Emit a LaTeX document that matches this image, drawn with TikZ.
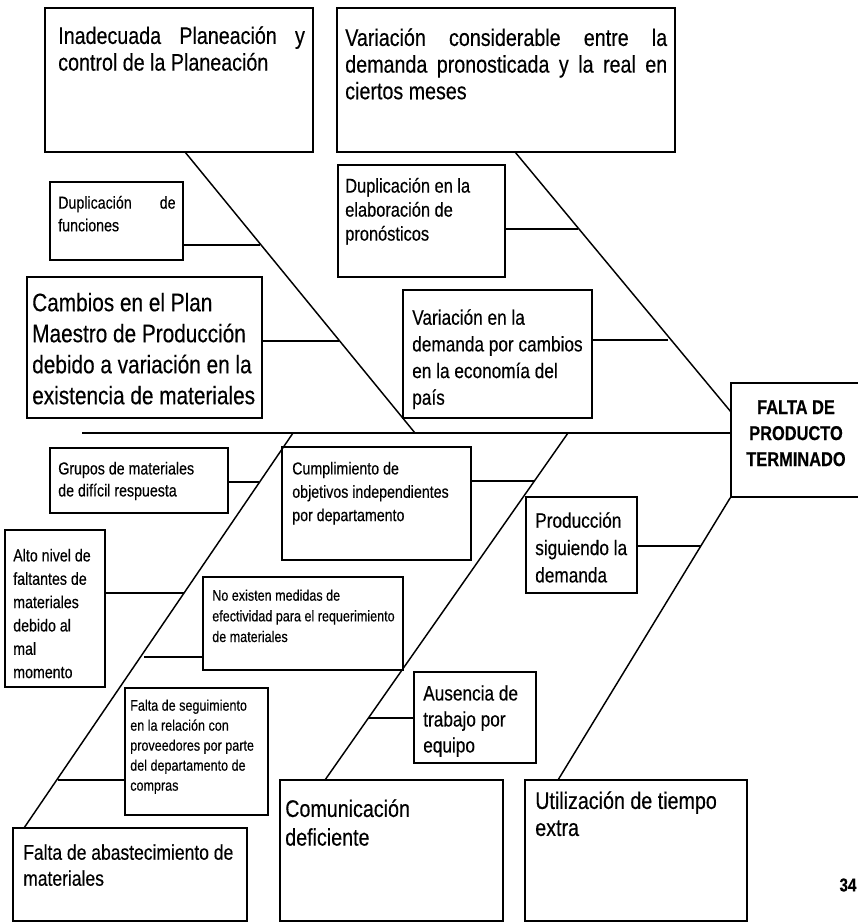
\documentclass[tikz,border=0pt]{standalone}
\usepackage{fontspec}
\setmainfont{Liberation Sans}
\newfontfamily\nf[FakeStretch=0.82,FakeBold=0.35]{Liberation Sans}
\usetikzlibrary{fit}
\newcommand{\fsz}[2]{\nf\fontsize{#1}{#2}\selectfont}
\tikzset{
  box/.style={draw, line width=1.1pt, inner sep=0pt},
  txt/.style={anchor=north west, inner sep=0pt, align=left},
  ln/.style={line width=1.1pt}
}
\begin{document}
\begin{tikzpicture}[x=0.75pt,y=-0.75pt]
\useasboundingbox (0,0) rectangle (857,923);
% boxes
\node[box, fit={(45,8) (313,152)}] (b1) {};
\node[box, fit={(337,8) (675,152)}] (b2) {};
\node[box, fit={(50,182) (183,260)}] (dupf) {};
\node[box, fit={(338,165) (505,277)}] (dupe) {};
\node[box, fit={(27,277) (262,418)}] (camb) {};
\node[box, fit={(403,290) (592,418)}] (varde) {};
\node[box, fit={(731,383) (880,497)}] (res) {};
\node[box, fit={(50,448) (228,513)}] (grupos) {};
\node[box, fit={(282,447) (471,560)}] (cumpl) {};
\node[box, fit={(5,530) (105,687)}] (alto) {};
\node[box, fit={(203,577) (403,670)}] (noex) {};
\node[box, fit={(125,688) (268,815)}] (fseg) {};
\node[box, fit={(526,497) (637,593)}] (prod) {};
\node[box, fit={(414,672) (536,763)}] (aus) {};
\node[box, fit={(13,828) (247,921)}] (fabast) {};
\node[box, fit={(280,780) (503,921)}] (comun) {};
\node[box, fit={(525,780) (747,921)}] (util) {};
% texts
\node[txt, font=\fsz{18}{20}] (t1) at (58,26) {\hbox to 185pt{Inadecuada\hfill Planeación\hfill y}\\control de la Planeación};
\node[txt, font=\fsz{18}{20}] (t2) at (345,28) {\hbox to 241.5pt{Variación\hfill considerable\hfill entre\hfill la}\\\hbox to 241.5pt{demanda\hfill pronosticada\hfill y\hfill la\hfill real\hfill en}\\ciertos meses};
\node[txt, font=\fsz{13}{17}] (t3) at (58,195.6) {\hbox to 88pt{Duplicación\hfill de}\\funciones};
\node[txt, font=\fsz{15}{18}] (t4) at (345,177.6) {Duplicación en la\\elaboración de\\pronósticos};
\node[txt, font=\fsz{19}{23.25}] (t5) at (32,292.6) {Cambios en el Plan\\Maestro de Producción\\debido a variación en la\\existencia de materiales};
\node[txt, font=\fsz{15.75}{20}] (t6) at (412,309) {Variación en la\\demanda por cambios\\en la economía del\\país};
\node[anchor=north, inner sep=0pt, align=center, font=\fsz{15}{19.5}\bfseries] (t7) at (796,400) {FALTA DE\\PRODUCTO\\TERMINADO};
\node[txt, font=\fsz{13}{16.5}] (t8) at (58,461.6) {Grupos de materiales\\de difícil respuesta};
\node[txt, font=\fsz{13}{17.5}] (t9) at (292,461.6) {Cumplimiento de\\objetivos independientes\\por departamento};
\node[txt, font=\fsz{13}{17.5}] (t10) at (13,548.6) {Alto nivel de\\faltantes de\\materiales\\debido al\\mal\\momento};
\node[txt, font=\fsz{11.5}{15.5}] (t11) at (212,589.3) {No existen medidas de\\efectividad para el requerimiento\\de materiales};
\node[txt, font=\fsz{11.5}{15}] (t12) at (130,699.3) {Falta de seguimiento\\en la relación con\\proveedores por parte\\del departamento de\\compras};
\node[txt, font=\fsz{15.75}{20.5}] (t13) at (535,512) {Producción\\siguiendo la\\demanda};
\node[txt, font=\fsz{15.75}{19.5}] (t14) at (423,685) {Ausencia de\\trabajo por\\equipo};
\node[txt, font=\fsz{16}{19.5}] (t15) at (23,844) {Falta de abastecimiento de\\materiales};
\node[txt, font=\fsz{18}{21.5}] (t16) at (285,799) {Comunicación\\deficiente};
\node[txt, font=\fsz{18}{20.25}] (t17) at (535,791) {Utilización de tiempo\\extra};
\node[inner sep=0pt, font=\fsz{14}{16}\bfseries] (pg) at (848,885) {34};
% spine coordinates
\coordinate (s1a) at (185,152);
\coordinate (s1b) at (415,433);
\coordinate (s2a) at (515,152);
\coordinate (s2b) at (731,412);
\coordinate (s3a) at (293,433);
\coordinate (s3b) at (24,828);
\coordinate (s4a) at (568,433);
\coordinate (s4b) at (325,780);
\coordinate (s5b) at (558,780);
\coordinate (m0) at (82,433);
% main spine
\draw[ln] (m0) -- (m0 -| res.west);
% bones
\draw[ln] (s1a) -- (s1b);
\draw[ln] (s2a) -- (s2b);
\draw[ln] (s3a) -- (s3b);
\draw[ln] (s4a) -- (s4b);
\draw[ln] (res.south west) -- (s5b);
% branch junctions
\coordinate (j1) at (260,245);
\coordinate (j2) at (339,341);
\coordinate (j3) at (578,229);
\coordinate (j4) at (668,340);
\coordinate (j5) at (259,482);
\coordinate (j6) at (535,481);
\coordinate (j7) at (184,593);
\coordinate (j8) at (144,657);
\coordinate (j9) at (58,780);
\coordinate (j10) at (701,546);
\coordinate (j11) at (369,718);
\draw[ln] (j1) -- (j1 -| dupf.east);
\draw[ln] (j2) -- (j2 -| camb.east);
\draw[ln] (j3) -- (j3 -| dupe.east);
\draw[ln] (j4) -- (j4 -| varde.east);
\draw[ln] (j5) -- (j5 -| grupos.east);
\draw[ln] (j6) -- (j6 -| cumpl.east);
\draw[ln] (j7) -- (j7 -| alto.east);
\draw[ln] (j8) -- (j8 -| noex.west);
\draw[ln] (j9) -- (j9 -| fseg.west);
\draw[ln] (j10) -- (j10 -| prod.east);
\draw[ln] (j11) -- (j11 -| aus.west);
\end{tikzpicture}
\end{document}
